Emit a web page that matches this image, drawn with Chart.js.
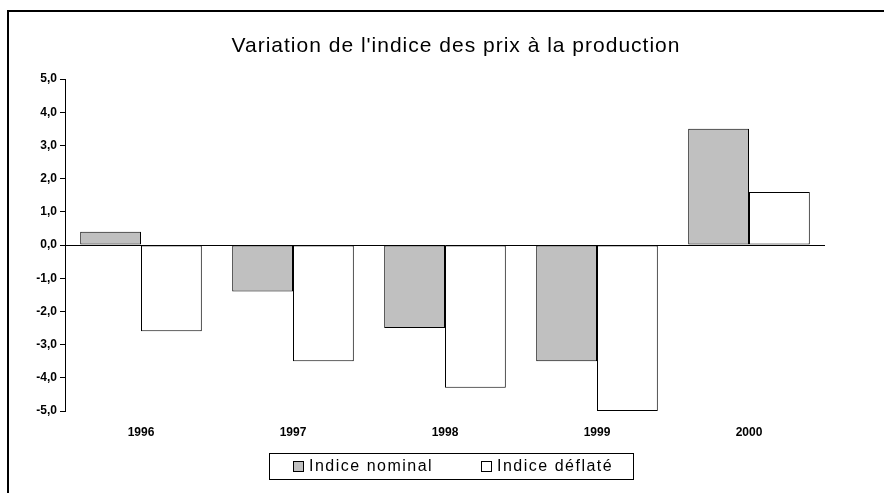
<!DOCTYPE html>
<html>
<head>
<meta charset="utf-8">
<script src="https://cdn.jsdelivr.net/npm/chart.js@4"></script>
<style>
  body { margin: 0; background: #fff; }
  canvas { display: block; }
</style>
</head>
<body>
<canvas id="chart" width="884" height="493"></canvas>
<script>
const years = ['1996', '1997', '1998', '1999', '2000'];
const nominal = [0.4, -1.4, -2.5, -3.5, 3.5];
const deflated = [-2.6, -3.5, -4.3, -5.0, 1.6];
const chartTitle = "Variation de l'indice des prix à la production";
const seriesNames = ['Indice nominal', 'Indice déflaté'];

const FONT = "'Liberation Sans', Arial, sans-serif";

// frame, title and boxed legend like the Excel original
const decor = {
    id: 'decor',
    beforeDraw(chart) {
        const c = chart.ctx;
        c.save();
        c.fillStyle = '#fff';
        c.fillRect(0, 0, chart.width, chart.height);
        c.strokeStyle = '#000';
        c.lineWidth = 2;
        c.beginPath();
        c.moveTo(8, chart.height);
        c.lineTo(8, 11);
        c.lineTo(chart.width, 11);
        c.stroke();
        c.restore();
    },
    afterDraw(chart) {
        const c = chart.ctx;
        c.save();
        c.fillStyle = '#000';
        c.font = '21px ' + FONT;
        c.textAlign = 'center';
        c.textBaseline = 'middle';
        c.letterSpacing = '1px';
        c.fillText(chartTitle, 456, 46);

        // legend box
        c.strokeStyle = '#000';
        c.lineWidth = 1;
        c.strokeRect(269.5, 453.5, 364, 26);
        const xs = [293, 481];
        c.font = '16px ' + FONT;
        c.textAlign = 'left';
        c.letterSpacing = '1.5px';
        chart.data.datasets.forEach((ds, i) => {
            c.fillStyle = ds.backgroundColor;
            c.fillRect(xs[i] + 0.5, 461.5, 10, 10);
            c.strokeStyle = '#000';
            c.strokeRect(xs[i] + 0.5, 461.5, 10, 10);
            c.fillStyle = '#000';
            c.fillText(ds.label, xs[i] + 16, 467);
        });
        c.restore();
    }
};

new Chart(document.getElementById('chart').getContext('2d'), {
    type: 'bar',
    data: {
        labels: years,
        datasets: [{
            label: seriesNames[0],
            data: nominal,
            backgroundColor: '#c0c0c0',
            borderColor: '#000',
            borderWidth: 1,
            borderSkipped: false
        }, {
            label: seriesNames[1],
            data: deflated,
            backgroundColor: '#ffffff',
            borderColor: '#000',
            borderWidth: 1,
            borderSkipped: false
        }]
    },
    options: {
        responsive: false,
        devicePixelRatio: 1,
        animation: false,
        layout: { padding: { left: 8, right: 59, top: 79, bottom: 37 } },
        datasets: { bar: { categoryPercentage: 0.8, barPercentage: 1.0 } },
        plugins: {
            legend: { display: false },
            title: { display: false },
            tooltip: { enabled: false }
        },
        scales: {
            x: {
                grid: { display: false },
                border: { display: false },
                ticks: {
                    color: '#000',
                    padding: 6,
                    font: { family: FONT, size: 12, weight: 'bold' }
                },
                afterFit: s => { s.height = 45; }
            },
            y: {
                min: -5,
                max: 5,
                ticks: {
                    stepSize: 1,
                    color: '#000',
                    padding: 3,
                    font: { family: FONT, size: 12, weight: 'bold' },
                    callback: v => v.toFixed(1).replace('.', ',')
                },
                grid: {
                    color: ctx => ctx.tick && ctx.tick.value === 0 ? '#000' : 'transparent',
                    tickColor: '#000',
                    tickLength: 5,
                    lineWidth: 1
                },
                border: { display: true, color: '#000', width: 1 },
                afterFit: s => { s.width = 57; }
            }
        }
    },
    plugins: [decor]
});
</script>
</body>
</html>
